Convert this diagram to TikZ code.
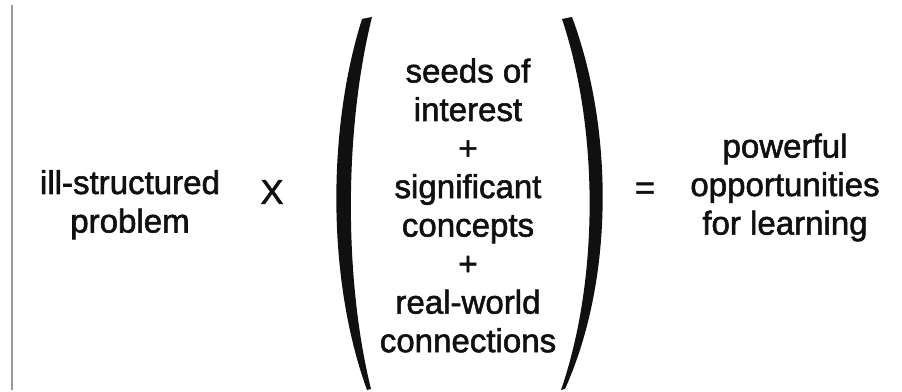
\documentclass[tikz,border=0pt]{standalone}
\usepackage{fontspec}
\setmainfont{Liberation Sans}
\newfontfamily\scanfont{Liberation Sans}[FakeBold=1.7]
\usepackage{tikz}
\usetikzlibrary{positioning}
\definecolor{rule}{HTML}{9A9A9A}
\definecolor{ink}{HTML}{101010}

\begin{document}
\begin{tikzpicture}[x=0.025cm,y=-0.025cm,
  term/.style={align=center,inner sep=0pt,text=ink,font=\scanfont\fontsize{23.5}{27.4}\selectfont},
  sign/.style={inner sep=0pt,text=ink,font=\scanfont\fontsize{24.5}{27.4}\selectfont},
]
  \useasboundingbox (0,0) rectangle (902,392);

  % page edge at the left
  \draw[rule,line width=1.1pt] (12,5) -- (12,390);

  \node[term] (prob) at (130,204.7) {ill-structured\\problem};
  \node[sign] (times) at (272,192) {X};

  \node[term] (mix) at (468,205.5) {seeds of\\interest\\+\\significant\\concepts\\+\\real-world\\connections};

  % hand-drawn brackets
  \fill[ink] (362,19) .. controls (327,130) and (327,280) .. (367,390)
    -- (371,389) .. controls (344,280) and (344,130) .. (372,17) -- cycle;
  \fill[ink] (562,19) -- (572,17) .. controls (614,130) and (614,280) .. (565,389)
    -- (561,390) .. controls (599,280) and (599,130) .. (562,19) -- cycle;

  \node[sign] (equals) at (645,191) {=};
  \node[term] (learn) at (785,187.5) {powerful\\opportunities\\for learning};
\end{tikzpicture}
\end{document}
